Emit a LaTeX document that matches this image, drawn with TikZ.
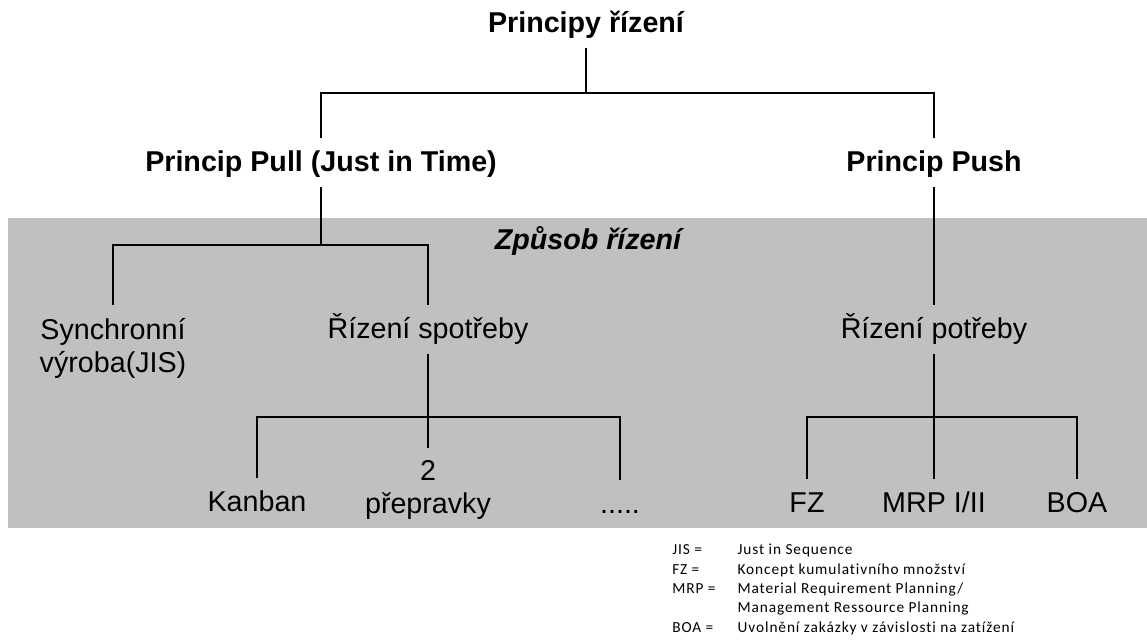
\documentclass[tikz,border=0pt]{standalone}
\usepackage{fontspec}
\setmainfont{Liberation Sans}
\newfontfamily\keyfont{Carlito}[LetterSpace=6, Ligatures=NoCommon]
\definecolor{panel}{RGB}{192,192,192}
\begin{document}
\begin{tikzpicture}
[x=0.75pt, y=-0.75pt,
 box/.style  = {inner sep=0pt, anchor=base, align=center, text height=25pt, text depth=11pt,
                font=\fontsize{21.5}{25}\selectfont},
 twoline/.style = {box, text height=50.5pt, text depth=},
 head/.style = {box, font=\fontsize{21.5}{25}\selectfont\bfseries},
 link/.style = {line width=0.9pt},
 key/.style  = {inner sep=0pt, anchor=base west, font=\keyfont\fontsize{11.5}{14.5}\selectfont}]
\useasboundingbox (0,0) rectangle (1147,641);
\fill[panel] (8,218) rectangle (1147,528);
\node[head] (root) at (586,33) {Principy řízení};
\node[head] (pull) at (321,172) {Princip Pull (Just in Time)};
\node[head] (push) at (934,172) {Princip Push};
\node[head, font=\fontsize{21.5}{25}\selectfont\bfseries\itshape] (mode) at (588,250) {Způsob řízení};
\node[twoline] (sync) at (113,373) {Synchronní\\výroba(JIS)};
\node[box] (spot) at (428,339) {Řízení spotřeby};
\node[box] (need) at (934,339) {Řízení potřeby};
\node[box] (kanban) at (257,512) {Kanban};
\node[twoline, text height=49.5pt] (crates) at (428,514) {2\\přepravky};
\node[box] (dots) at (620,514) {.....};
\node[box] (fz) at (807,513) {FZ};
\node[box] (mrp) at (934,513) {MRP I/II};
\node[box] (boa) at (1077,513) {BOA};
\node[key] (legend) at (672,555) {\begin{tabular}[t]{@{}p{49pt}@{}l@{}}
JIS = & Just in Sequence\\
FZ = & Koncept kumulativního množství\\
MRP = & Material Requirement Planning/\\
 & Management Ressource Planning\\
BOA = & Uvolnění zakázky v závislosti na zatížení
\end{tabular}};
\draw[link] (root.south) -- ++(0,45) -| (pull.north);
\draw[link] (root.south) -- ++(0,45) -| (push.north);
\draw[link] (pull.south) -- ++(0,58) -| (sync.north);
\draw[link] (pull.south) -- ++(0,58) -| (spot.north);
\draw[link] (push.south) -- (need.north);
\draw[link] (spot.south) -- ++(0,63) -| (kanban.north);
\draw[link] (spot.south) -- ++(0,63) -| (dots.north);
\draw[link] (spot.south) -- (crates.north);
\draw[link, line width=1.8pt] (need.south) -- ++(0,63) coordinate (fork);
\draw[link] (fork) -| (fz.north);
\draw[link] (fork) -| (boa.north);
\draw[link] (fork) -- (mrp.north);
\end{tikzpicture}
\end{document}
